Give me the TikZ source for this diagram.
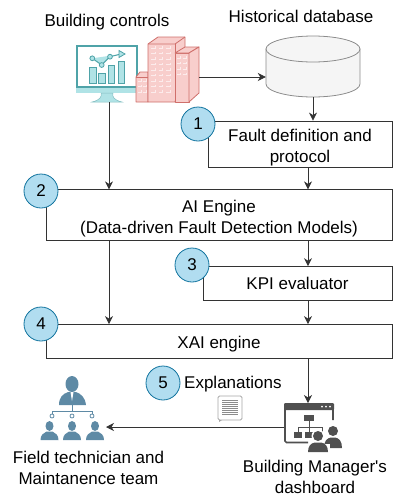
\documentclass[tikz,border=0pt]{standalone}
\usepackage{fontspec}
\setmainfont{Liberation Sans}
\usepackage{xcolor}
\usetikzlibrary{positioning}
\usetikzlibrary{arrows.meta}
\definecolor{stepblue}{HTML}{B1DDF0}
\definecolor{stepline}{HTML}{10739E}
\definecolor{monline}{HTML}{4FA3A8}
\definecolor{monfill}{HTML}{B0E3E6}
\definecolor{cityfill}{HTML}{F8CECC}
\definecolor{cityline}{HTML}{CF6F6B}
\definecolor{teamcol}{HTML}{5E8AA5}
\definecolor{dashcol}{HTML}{505050}
\newcommand{\lowertext}[1]{\rule{0pt}{#1pt}}
\tikzset{
  flowbox/.style={draw=black!80, line width=0.8pt, fill=white, inner sep=0pt, align=center, font=\fontsize{17}{21}\selectfont},
  stepdot/.style={circle, draw=stepline, fill=stepblue, line width=0.8pt, minimum size=34pt, inner sep=0pt, font=\fontsize{17}{20}\selectfont},
  caption/.style={align=center, inner sep=0pt, font=\fontsize{17}{21}\selectfont},
  link/.style={draw=black!80, line width=0.8pt, -{Stealth[length=8pt,width=8pt,inset=2.5pt]}},
  pane/.style={draw=white!60!cityfill, line width=0.5pt}
}
\begin{document}
\begin{tikzpicture}[x=1pt,y=-1pt]
 \useasboundingbox (0,0) rectangle (405,496);

 % boxes
 \node[flowbox, minimum width=184pt, minimum height=46pt] (fault) at (300,144) {\lowertext{19}Fault definition and\\protocol};
 \node[flowbox, minimum width=346pt, minimum height=51pt] (engine) at (219,215.3) {\lowertext{18}AI Engine\\(Data-driven Fault Detection Models)};
 \node[flowbox, minimum width=189pt, minimum height=34pt] (kpi) at (297.5,283.6) {KPI evaluator};
 \node[flowbox, minimum width=346pt, minimum height=34pt] (xai) at (219,341.5) {\lowertext{17.5}XAI engine};

 % database
 \node[minimum width=94pt, minimum height=61pt, inner sep=0pt] (db) at (313,66.5) {};
 \draw[draw=black!45, fill=black!4, line width=0.8pt] (266,49) -- (266,84) arc[start angle=180, end angle=0, x radius=47, y radius=13] -- (360,49) -- cycle;
 \draw[draw=black!45, fill=black!4, line width=0.8pt] (313,49) ellipse (47 and 13);

 % captions
 \node[caption] (controlstext) at (107,22) {Building controls};
 \node[caption] (dbtext) at (301,16) {Historical database};
 \node[caption, anchor=west] (expltext) at (184,384) {Explanations};
 \node[caption] (managertext) at (315,476.5) {Building Manager\textquotesingle s\\dashboard};
 \node[caption] (teamtext) at (88.5,468) {Field technician and\\Maintanence team};

 % monitor
 \coordinate (monbottom) at (109,102);
 \fill[monfill] (76,87) rectangle (138,93);
 \draw[monline, line width=1.8pt, fill=white] (77,46) rectangle (137,87);
 \draw[monline!70, fill=monfill, line width=0.5pt] (101,93) .. controls (102,97) and (100,100) .. (92,102) -- (122,102) .. controls (114,100) and (112,97) .. (113,93) -- cycle;
 \foreach \x/\top in {89.5/67.7, 98.7/73.3, 108.3/65, 118/61.3} {
    \draw[monline, fill=monfill, line width=0.9pt] (\x,\top) rectangle (\x+6.5,83);
 }
 \draw[monline, fill=monfill, line width=1pt] (92.3,58.3) -- (101.7,65) -- (110,56.7) -- (119,54.5);
 \foreach \x/\y in {92.3/58.3, 101.7/65, 110/56.7} {
    \draw[monline, fill=monfill, line width=0.8pt] (\x,\y) circle (2.4);
 }
 \draw[monline, fill=monfill, line width=0.8pt] (119,50.5) -- (125,54) -- (119,57.5) -- cycle;

 % buildings
 \begin{scope}[draw=cityline, fill=cityfill, line width=0.8pt, line join=round]
  \filldraw (136,77) -- (140,72) -- (148,72) -- (148,102) -- (136,102) -- cycle;
  \draw (136,77) -- (148,77);
  \filldraw (148,44) -- (158,37) -- (185,37) -- (185,60) -- (175,102) -- (148,102) -- cycle;
  \draw (148,44) -- (175,44) -- (185,37);
  \draw (175,44) -- (175,53);
  \filldraw (175,53) -- (189,53) -- (189,102) -- (175,102) -- cycle;
  \filldraw (175,53) -- (185,47) -- (199,47) -- (189,53) -- cycle;
  \filldraw (189,53) -- (199,47) -- (199,93) -- (189,102) -- cycle;
 \end{scope}
 \coordinate (cityeast) at (199,77);
 \foreach \row in {0,...,8} {
    \foreach \col in {0,1,2} {
       \draw[pane] (151+\col*7.5,48+\row*5.5) -- ++(4,0) -- ++(0,-2);
    }
 }
 \foreach \row in {0,...,3} {
    \foreach \col in {0,1} {
       \draw[pane] (177+\col*5.5,58+\row*5.5) -- ++(3.5,0) -- ++(0,-2);
    }
 }
 \foreach \row in {0,1,2} {
    \foreach \col in {0,1} {
       \draw[pane] (138+\col*5,81+\row*5.5) -- ++(3.5,0) -- ++(0,-2);
    }
 }

 % team
 \fill[teamcol] (72,384) ellipse (6.5 and 8);
 \fill[teamcol] (59,405) .. controls (59,397) and (63,394) .. (68,392) -- (76,392) .. controls (81,394) and (85,397) .. (86,405) -- cycle;
 \fill[white] (70.5,392) -- (73.5,392) -- (72,401) -- cycle;
 \draw[teamcol, line width=0.9pt] (72,405) -- (72,411);
 \draw[teamcol, line width=0.9pt] (52,414) -- (52,411) -- (92,411) -- (92,414);
 \foreach \x/\px in {52/49.5, 72/72, 92/95} {
    \draw[teamcol, fill=white, line width=0.8pt] (\x,416) circle (2);
    \fill[teamcol] (\px,426) ellipse (4 and 5);
    \fill[teamcol] (\px-9,440) .. controls (\px-9,435) and (\px-6,433) .. (\px-3,431.5) -- (\px+3,431.5) .. controls (\px+6,433) and (\px+9,435) .. (\px+9,440) -- cycle;
 }
 \coordinate (teameast) at (106,427);

 % note
 \draw[black!35, fill=white, line width=0.8pt, rounded corners=1.5pt] (218,396) rectangle (242,420);
 \fill[black!35] (219,420) -- (219,422) -- (222,420) -- cycle;
 \foreach \y in {400,402,...,414} {
    \draw[black!45, line width=0.8pt] (222,\y) -- (238,\y);
 }

 % dashboard
 \coordinate (dashtop) at (308,403);
 \coordinate (dashwest) at (284,427);
 \draw[dashcol, line width=1.6pt, rounded corners=1.5pt] (333,420) -- (333,404) -- (285,404) -- (285,442.5) -- (308,442.5);
 \fill[dashcol, rounded corners=1pt] (284,403) rectangle (334,410);
 \foreach \x in {322,326,330} {
    \fill[white] (\x,406.5) circle (1);
 }
 \fill[dashcol] (304,415) rectangle (314,421);
 \fill[dashcol] (294,432) rectangle (302,438);
 \fill[dashcol] (305,432) rectangle (313,438);
 \draw[dashcol, line width=0.9pt] (309,421) -- (309,427) (298,432) -- (298,427) -- (322,427) -- (322,432) (309,427) -- (309,432);
 \fill[dashcol] (333,431) circle (5);
 \fill[dashcol] (324,448) .. controls (324,441) and (327,438) .. (331,437.5) -- (335,437.5) .. controls (339,438) and (342,441) .. (342,448) -- cycle;
 \fill[white] (318,436) circle (6.5);
 \fill[white] (306,453) rectangle (330,444);
 \fill[dashcol] (318,436) circle (5);
 \fill[dashcol] (308,452) .. controls (308,446) and (311,443) .. (315,442.5) -- (321,442.5) .. controls (325,443) and (328,446) .. (328,452) -- cycle;

 % lines
 \foreach \source/\dest in {cityeast/cityeast -| db.west, db.south/db.south |- fault.north, monbottom/monbottom |- engine.north, dashwest/teameast} {
    \path[link] (\source) -- (\dest);
 }
 \path[link] (fault.south -| 308,0) -- (engine.north -| 308,0);
 \path[link] (engine.south -| 109,0) -- (xai.north -| 109,0);
 \path[link] (engine.south -| 308,0) -- (kpi.north -| 308,0);
 \path[link] (kpi.south -| 308,0) -- (xai.north -| 308,0);
 \path[link] (xai.south -| 308,0) -- (dashtop);

 % numbers
 \foreach \name/\px/\py/\num in {one/198/124/1, two/41/191/2, three/192/265/3, four/41/324/4, five/163/383/5} {
    \node[stepdot] (\name) at (\px,\py) {\num};
 }

\end{tikzpicture}
\end{document}
